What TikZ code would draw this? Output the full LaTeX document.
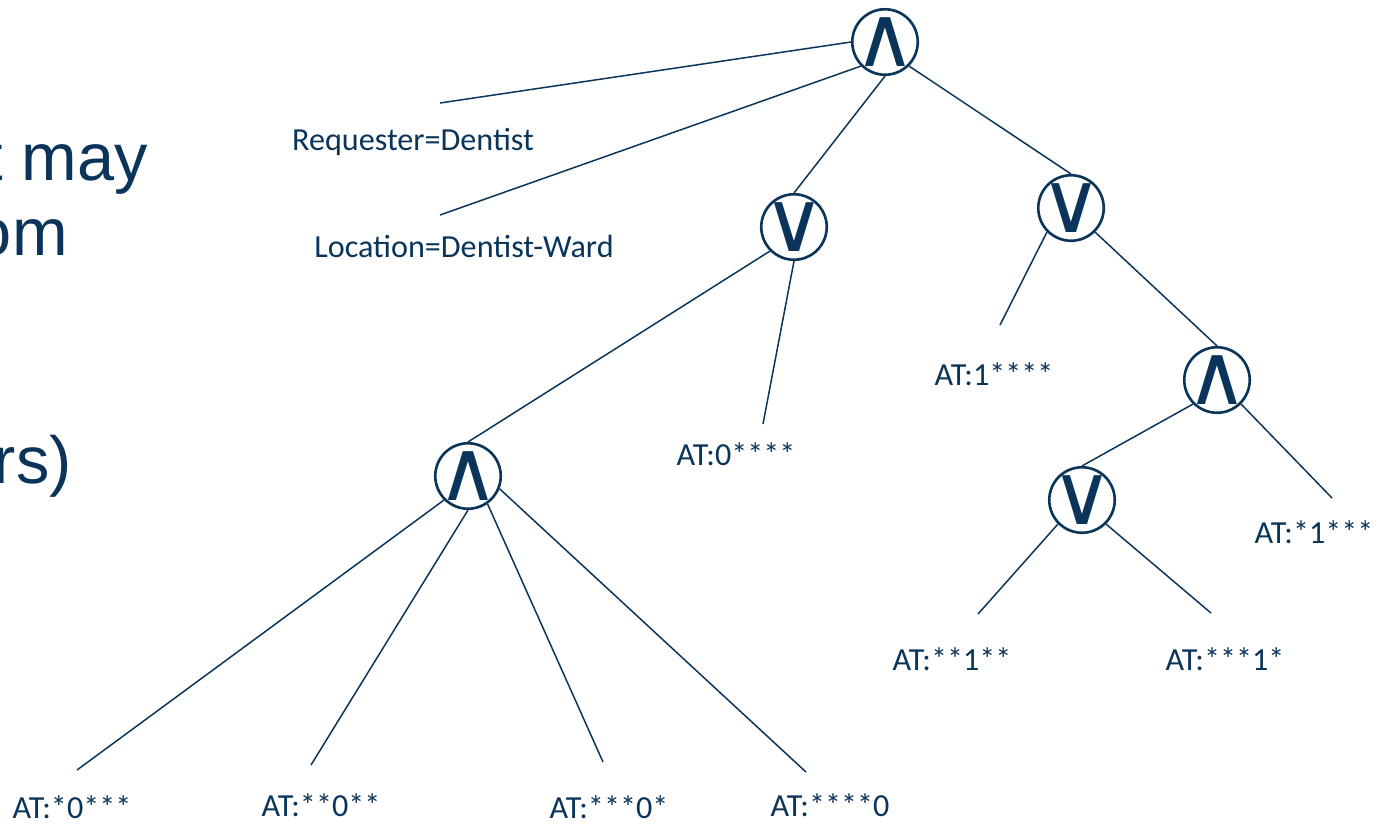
\documentclass[tikz,border=0pt]{standalone}
\usepackage{fontspec}
\setmainfont{Carlito}
\newfontfamily\slidefont{Liberation Sans}
\newfontfamily\opfont{DejaVu Sans}
\usepackage{xcolor}
\definecolor{navy}{RGB}{10,52,90}

\tikzset{
  op/.style={circle, draw=navy, line width=1.5pt, minimum size=1.31cm, inner sep=-6pt,
    text=navy, font=\opfont\fontsize{48}{48}\selectfont},
  leaf/.style={anchor=base, text=navy, inner sep=0pt, font=\fontsize{18.3}{20}\selectfont},
  edge/.style={draw=navy, line width=0.85pt}
}

\begin{document}
\begin{tikzpicture}[x=0.02cm, y=-0.02cm]
        \useasboundingbox (0,0) rectangle (1388,823);
        \clip (0,0) rectangle (1388,823);

        % texto do slide (cortado)
        \node[anchor=base east, inner sep=0pt, text=navy, font=\slidefont\fontsize{38}{40}\selectfont] (s1) at (148,180) {t may};
        \node[anchor=base east, inner sep=0pt, text=navy, font=\slidefont\fontsize{38}{40}\selectfont] (s2) at (68,255) {om};
        \node[anchor=base east, inner sep=0pt, text=navy, font=\slidefont\fontsize{38}{40}\selectfont] (s3) at (72,483) {rs)};

        % operadores
        \node[op] (root) at (885,42) {∧};
        \node[op] (or1) at (794,227) {∨};
        \node[op] (or2) at (1071,208) {∨};
        \node[op] (andl) at (468,476) {∧};
        \node[op] (andr) at (1217,380) {∧};
        \node[op] (or3) at (1082,500) {∨};

        % pontas das folhas
        \coordinate (req) at (440,103);
        \coordinate (loc) at (440,215);
        \coordinate (a0) at (763,424);
        \coordinate (a1) at (1000,325);
        \coordinate (b1) at (1332,498);
        \coordinate (c1) at (978,614);
        \coordinate (d1) at (1211,613);
        \coordinate (b0) at (77,770);
        \coordinate (c0) at (311,765);
        \coordinate (d0) at (603,762);
        \coordinate (e0) at (806,772);

        % rotulos
        \node[leaf] (treq) at (413,150) {Requester=Dentist};
        \node[leaf] (tloc) at (464,257) {Location=Dentist-Ward};
        \node[leaf] (ta0) at (736,465) {AT:0****};
        \node[leaf] (ta1) at (994,385) {AT:1****};
        \node[leaf] (tb1) at (1314,543) {AT:*1***};
        \node[leaf] (tc1) at (952,670) {AT:**1**};
        \node[leaf] (td1) at (1225,670) {AT:***1*};
        \node[leaf] (tb0) at (72,818) {AT:*0***};
        \node[leaf] (tc0) at (321,816) {AT:**0**};
        \node[leaf] (td0) at (609,818) {AT:***0*};
        \node[leaf] (te0) at (830,816) {AT:****0};

        % arestas
        \draw[edge] (root.west) -- (req);
        \draw[edge] (root.south west) -- (loc);
        \draw[edge] (root.south) -- (or1.north);
        \draw[edge] (root.south east) -- (or2.north);
        \draw[edge] (or1.south west) -- (andl.north);
        \draw[edge] (or1.south) -- (a0);
        \draw[edge] (or2.south west) -- (a1);
        \draw[edge] (or2.south east) -- (andr.north);
        \draw[edge] (andr.south west) -- (or3.north);
        \draw[edge] (andr.south east) -- (b1);
        \draw[edge] (or3.south west) -- (c1);
        \draw[edge] (or3.south east) -- (d1);
        \draw[edge] (andl.south west) -- (b0);
        \draw[edge] (andl.south) -- (c0);
        \draw[edge] (andl.-55) -- (d0);
        \draw[edge] (andl.-22) -- (e0);
    \end{tikzpicture}
\end{document}
